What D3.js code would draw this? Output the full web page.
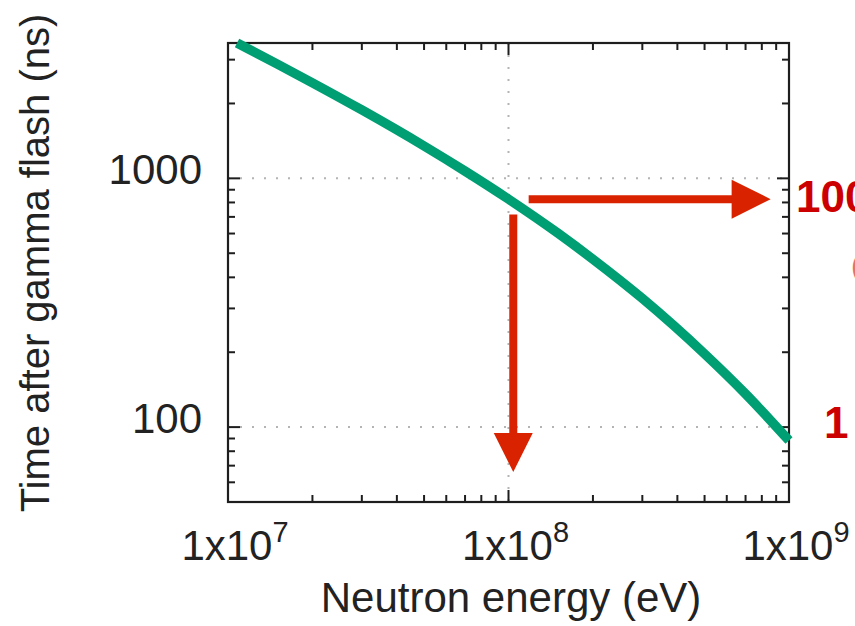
<!DOCTYPE html>
<html>
<head>
<meta charset="utf-8">
<script src="https://cdn.jsdelivr.net/npm/d3@7"></script>
<style>
  html, body { margin: 0; padding: 0; background: #fff; }
  svg { display: block; }
  text { font-family: "Liberation Sans", Arial, Helvetica, sans-serif; }
</style>
</head>
<body>
<svg id="chart" width="855" height="626"></svg>
<script>
// Neutron time of flight after the gamma flash versus neutron kinetic energy
const energyEV = [1.077e7, 1.5e7, 2e7, 3e7, 5e7, 7e7, 1e8, 1.5e8, 2e8, 3e8, 5e8, 7e8, 1e9];
const timeNs   = [3500, 2878, 2421, 1883, 1349, 1069, 825, 602, 473, 329, 197, 136, 88.3];

// Axis ticks
const xMajorTicks = [1e7, 1e8, 1e9];
const xTickExponents = ["7", "8", "9"];
const yMajorTicks = [100, 1000];
const yTickLabels = ["100", "1000"];

// Annotation arrows (data units): energy 100 MeV -> time, time -> energy
const hArrowTime = 825, hArrowFrom = 1.18e8, hArrowTo = 8.6e8;
const vArrowEnergy = 1.04e8, vArrowFrom = 715, vArrowTo = 66;

// Side labels
const sideLabels = ["100 MeV", "1 GeV", "(820 ns)"];

const svg = d3.select("#chart");
const plotL = 228, plotR = 789, plotT = 43, plotB = 502;

const x = d3.scaleLog().domain([1e7, 1e9]).range([plotL, plotR]);
const y = d3.scaleLog().domain([50, 3500]).range([plotB, plotT]);

const axisColor = "#1e1e1e";
const gridColor = "#b4b4b4";
const fontSize = 42;

// Grid (dotted) at major ticks
const grid = svg.append("g");
grid.selectAll("line.gy").data(yMajorTicks).join("line")
  .attr("x1", plotL).attr("x2", plotR)
  .attr("y1", d => y(d)).attr("y2", d => y(d))
  .attr("stroke", gridColor).attr("stroke-width", 2)
  .attr("stroke-dasharray", "2,10");
grid.selectAll("line.gx").data([1e8]).join("line")
  .attr("y1", plotT).attr("y2", plotB)
  .attr("x1", d => x(d)).attr("x2", d => x(d))
  .attr("stroke", gridColor).attr("stroke-width", 2)
  .attr("stroke-dasharray", "2,10");

// Minor tick values
const xMinor = [];
[1e7, 1e8].forEach(b => { for (let k = 2; k <= 9; k++) xMinor.push(k * b); });
const yMinor = [];
[10, 100, 1000].forEach(b => { for (let k = 1; k <= 9; k++) { const v = k * b; if (v >= 50 && v <= 3500 && !yMajorTicks.includes(v)) yMinor.push(v); } });

const majLen = 12, minLen = 7;
const ticks = svg.append("g").attr("stroke", axisColor).attr("stroke-width", 2);

function xTicks(vals, len) {
  ticks.selectAll(null).data(vals).join("line")
    .attr("x1", d => x(d)).attr("x2", d => x(d))
    .attr("y1", plotB).attr("y2", plotB - len);
  ticks.selectAll(null).data(vals).join("line")
    .attr("x1", d => x(d)).attr("x2", d => x(d))
    .attr("y1", plotT).attr("y2", plotT + len);
}
function yTicks(vals, len) {
  ticks.selectAll(null).data(vals).join("line")
    .attr("y1", d => y(d)).attr("y2", d => y(d))
    .attr("x1", plotL).attr("x2", plotL + len);
  ticks.selectAll(null).data(vals).join("line")
    .attr("y1", d => y(d)).attr("y2", d => y(d))
    .attr("x1", plotR).attr("x2", plotR - len);
}
xTicks(xMajorTicks, majLen);
xTicks(xMinor, minLen);
yTicks(yMajorTicks, majLen);
yTicks(yMinor, minLen);

// Frame
svg.append("rect")
  .attr("x", plotL).attr("y", plotT)
  .attr("width", plotR - plotL).attr("height", plotB - plotT)
  .attr("fill", "none").attr("stroke", axisColor).attr("stroke-width", 2.2);

// Y tick labels
svg.append("g").selectAll("text").data(yMajorTicks).join("text")
  .attr("x", plotL - 26).attr("y", d => y(d) + 6)
  .attr("text-anchor", "end")
  .attr("font-size", fontSize).attr("fill", "#222")
  .text((d, i) => yTickLabels[i]);

// X tick labels with superscript exponent
const xl = svg.append("g").selectAll("text").data(xMajorTicks).join("text")
  .attr("x", d => x(d) + 7).attr("y", 560)
  .attr("text-anchor", "middle")
  .attr("font-size", fontSize).attr("fill", "#222");
xl.append("tspan").text("1x10");
xl.append("tspan").attr("font-size", 29).attr("dy", -18).text((d, i) => xTickExponents[i]);

// Axis titles
svg.append("text")
  .attr("x", 511).attr("y", 612)
  .attr("text-anchor", "middle").attr("font-size", fontSize).attr("fill", "#222")
  .text("Neutron energy (eV)");
svg.append("text")
  .attr("transform", "translate(49,263) rotate(-90)")
  .attr("text-anchor", "middle").attr("font-size", 40).attr("fill", "#222")
  .text("Time after gamma flash (ns)");

// Curve
const line = d3.line()
  .x((d, i) => x(energyEV[i]))
  .y(d => y(d))
  .curve(d3.curveMonotoneX);
svg.append("path")
  .datum(timeNs)
  .attr("d", line)
  .attr("fill", "none")
  .attr("stroke", "#009e73")
  .attr("stroke-width", 9.5);

// Arrows
const arrowColor = "#d92200";
const shaftW = 8, headLen = 39, headHalf = 19.5;
// horizontal arrow
{
  const yy = y(hArrowTime), x0 = x(hArrowFrom), x1 = x(hArrowTo);
  svg.append("line")
    .attr("x1", x0).attr("x2", x1 - headLen + 1)
    .attr("y1", yy).attr("y2", yy)
    .attr("stroke", arrowColor).attr("stroke-width", shaftW);
  svg.append("path")
    .attr("d", `M${x1},${yy} L${x1 - headLen},${yy - headHalf} L${x1 - headLen},${yy + headHalf} Z`)
    .attr("fill", arrowColor);
}
// vertical arrow
{
  const xx = x(vArrowEnergy), y0 = y(vArrowFrom), y1 = y(vArrowTo);
  svg.append("line")
    .attr("x1", xx).attr("x2", xx)
    .attr("y1", y0).attr("y2", y1 - headLen + 1)
    .attr("stroke", arrowColor).attr("stroke-width", shaftW);
  svg.append("path")
    .attr("d", `M${xx},${y1} L${xx - headHalf},${y1 - headLen} L${xx + headHalf},${y1 - headLen} Z`)
    .attr("fill", arrowColor);
}

// Side labels (run off the right edge)
const labelRed = "#cc0000";
svg.append("text").attr("x", 796).attr("y", 212)
  .attr("font-size", 44).attr("font-weight", "bold").attr("fill", labelRed)
  .text(sideLabels[0]);
svg.append("text").attr("x", 824).attr("y", 438)
  .attr("font-size", 44).attr("font-weight", "bold").attr("fill", labelRed)
  .text(sideLabels[1]);
svg.append("text").attr("x", 851).attr("y", 276)
  .attr("font-size", 30).attr("fill", "#e87070")
  .text(sideLabels[2]);
</script>
</body>
</html>
